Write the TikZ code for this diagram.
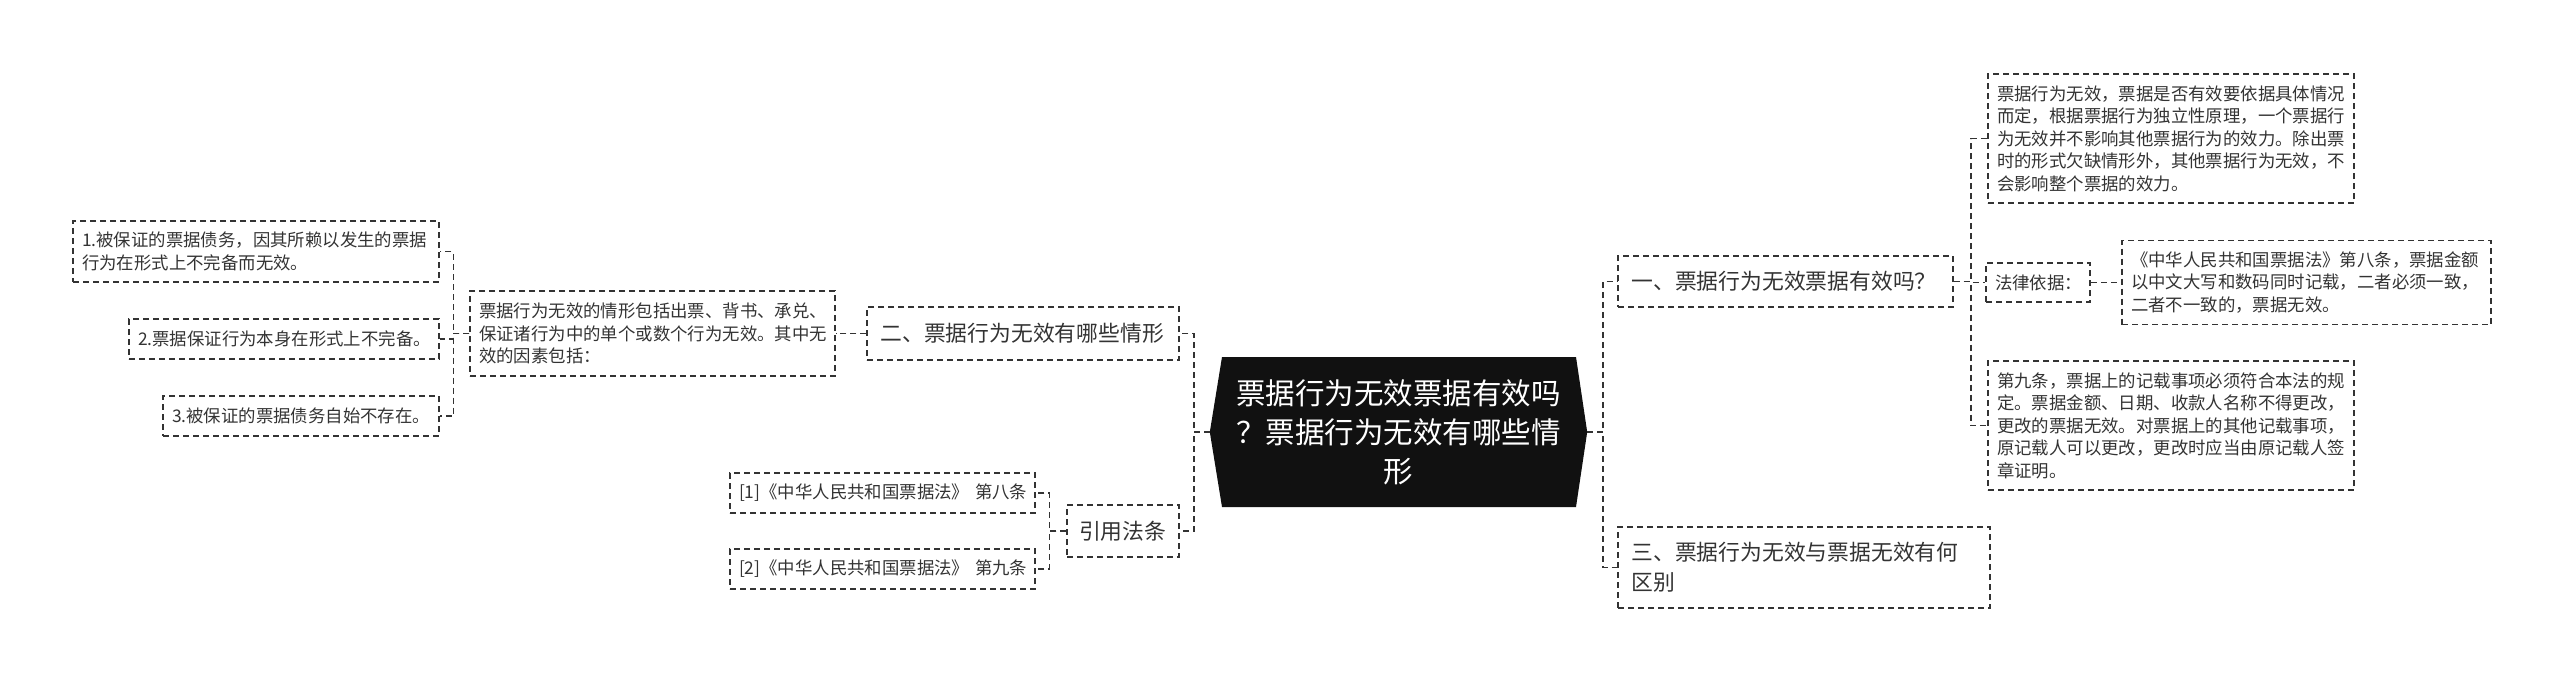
\documentclass[tikz,border=0pt]{standalone}
\usepackage{fontspec}
\newfontfamily\cjk{Noto Sans CJK SC}
\definecolor{ink}{HTML}{333333}
\definecolor{rootfill}{HTML}{111111}
\tikzset{
  box/.style={draw=ink, line width=1.5pt, dash pattern=on 6pt off 4pt, text=ink, inner ysep=0pt, align=left, anchor=center},
  sm/.style={box, font=\cjk\fontsize{17.4}{22.5}\selectfont, inner xsep=9pt},
  md/.style={box, font=\cjk\fontsize{21.8}{30}\selectfont, inner xsep=13.5pt},
  link/.style={draw=ink, line width=1.5pt, dash pattern=on 6pt off 4pt}
}
\begin{document}
\begin{tikzpicture}[x=1pt,y=-1pt]
\useasboundingbox (0,0) rectangle (2560,683);
% root
\node[minimum width=377pt, minimum height=150pt, inner sep=0pt] (root) at (1398.5,432) {};
\fill[rootfill] (root.west) -- (1222,357) -- (1576,357) -- (root.east) -- (1576,507) -- (1222,507) -- cycle;
\node[text=white, align=center, font=\cjk\fontsize{29.5}{39}\selectfont] (roottext) at (root.center) {票据行为无效票据有效吗\\？票据行为无效有哪些情\\形};
% right side
\node[md, minimum width=335pt, minimum height=51pt, text width=308pt] (qa) at (1785.5,281.5) {一、票据行为无效票据有效吗？};
\node[md, minimum width=372pt, minimum height=81pt, text width=345pt] (q3) at (1804,567.5) {三、票据行为无效与票据无效有何\\区别};
\node[sm, minimum width=366pt, minimum height=129pt, text width=348pt] (b1) at (2171,138.5) {票据行为无效，票据是否有效要依据具体情况\\而定，根据票据行为独立性原理，一个票据行\\为无效并不影响其他票据行为的效力。除出票\\时的形式欠缺情形外，其他票据行为无效，不\\会影响整个票据的效力。};
\node[sm, minimum width=104pt, minimum height=39pt, text width=86pt] (law0) at (2038,282.5) {法律依据：};
\node[sm, minimum width=369pt, minimum height=84pt, text width=351pt] (law) at (2306.5,282.5) {《中华人民共和国票据法》第八条，票据金额\\以中文大写和数码同时记载，二者必须一致，\\二者不一致的，票据无效。};
\node[sm, minimum width=366pt, minimum height=129pt, text width=348pt] (art9) at (2171,425.5) {第九条，票据上的记载事项必须符合本法的规\\定。票据金额、日期、收款人名称不得更改，\\更改的票据无效。对票据上的其他记载事项，\\原记载人可以更改，更改时应当由原记载人签\\章证明。};
% left side
\node[md, minimum width=312pt, minimum height=53pt, text width=285pt] (q2) at (1023,333.5) {二、票据行为无效有哪些情形};
\node[sm, minimum width=365pt, minimum height=85pt, text width=347pt] (m) at (652.5,333.5) {票据行为无效的情形包括出票、背书、承兑、\\保证诸行为中的单个或数个行为无效。其中无\\效的因素包括：};
\node[sm, minimum width=366pt, minimum height=61pt, text width=348pt] (l1) at (256,251.5) {1.被保证的票据债务，因其所赖以发生的票据\\行为在形式上不完备而无效。};
\node[sm, minimum width=310pt, minimum height=40pt, text width=292pt] (l2) at (284,339) {2.票据保证行为本身在形式上不完备。};
\node[sm, minimum width=276pt, minimum height=40pt, text width=258pt] (l3) at (301,416) {3.被保证的票据债务自始不存在。};
\node[md, minimum width=112pt, minimum height=52pt, text width=88pt, inner xsep=12pt] (cite) at (1123,531) {引用法条};
\node[sm, minimum width=305pt, minimum height=40pt, text width=287pt] (r1) at (882.5,493) {[1]《中华人民共和国票据法》~第八条};
\node[sm, minimum width=305pt, minimum height=40pt, text width=287pt] (r2) at (882.5,569) {[2]《中华人民共和国票据法》~第九条};
% connectors
\draw[link] (root.east) -- ++(16,0) |- (qa.west);
\draw[link] (root.east) -- ++(16,0) |- (q3.west);
\draw[link] (qa.east) -- ++(17,0) |- (b1.west);
\draw[link] (qa.east) -- ++(17,0) |- (law0.west);
\draw[link] (qa.east) -- ++(17,0) |- (art9.west);
\draw[link] (law0.east) -- (law.west);
\draw[link] (root.west) -- ++(-16,0) |- (q2.east);
\draw[link] (root.west) -- ++(-16,0) |- (cite.east);
\draw[link] (q2.west) -- (m.east);
\draw[link] (m.west) -- ++(-16,0) |- (l1.east);
\draw[link] (m.west) -- ++(-16,0) |- (l2.east);
\draw[link] (m.west) -- ++(-16,0) |- (l3.east);
\draw[link] (cite.west) -- ++(-17,0) |- (r1.east);
\draw[link] (cite.west) -- ++(-17,0) |- (r2.east);
\end{tikzpicture}
\end{document}
